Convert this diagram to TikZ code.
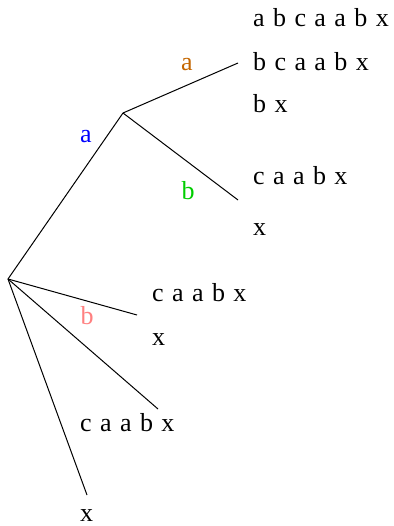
\documentclass[tikz,border=0pt]{standalone}
\usepackage{fontspec}
\setmainfont{Liberation Serif}
\definecolor{cOrange}{RGB}{196,102,0}
\definecolor{cBlue}{RGB}{0,0,255}
\definecolor{cGreen}{RGB}{0,205,0}
\definecolor{cPink}{RGB}{255,128,128}
\newcommand\sufont{\fontsize{26}{30}\selectfont}
\newcommand\wideSpaces{\spaceskip=8.4pt\relax}
\tikzset{
  suffix/.style={anchor=base west, inner sep=0pt, font=\sufont, execute at begin node=\wideSpaces},
  elabel/.style={anchor=base, inner sep=0pt, font=\sufont},
  edge/.style={draw=black, line width=1pt}
}
\begin{document}
\begin{tikzpicture}[x=1pt,y=-1pt]
\useasboundingbox (0,0) rectangle (393,526);
% tree points
\coordinate (root) at (8,279);
\coordinate (na) at (123,113);
\coordinate (naa) at (238,63);
\coordinate (nab) at (238,200);
\coordinate (nb) at (137,315);
\coordinate (nc) at (158,409);
\coordinate (nx) at (87,495);
% edges
\draw[edge] (root) -- (na);
\draw[edge] (na) -- (naa);
\draw[edge] (na) -- (nab);
\draw[edge] (root) -- (nb);
\draw[edge] (root) -- (nc);
\draw[edge] (root) -- (nx);
% edge labels
\node[elabel, text=cBlue] (la) at (86,143) {a};
\node[elabel, text=cOrange] (laa) at (187,71) {a};
\node[elabel, text=cGreen] (lab) at (188,200) {b};
\node[elabel, text=cPink] (lb) at (87,324) {b};
% suffix texts
\node[suffix] (s1) at (253,27) {a b c a a b x};
\node[suffix] (s2) at (253,71) {b c a a b x};
\node[suffix] (s3) at (253,113) {b x};
\node[suffix] (s4) at (253,185) {c a a b x};
\node[suffix] (s5) at (253,235) {x};
\node[suffix] (s6) at (152,301) {c a a b x};
\node[suffix] (s7) at (152,345) {x};
\node[suffix] (s8) at (80,431) {c a a b x};
\node[suffix] (s9) at (80,521.5) {x};
\end{tikzpicture}
\end{document}
